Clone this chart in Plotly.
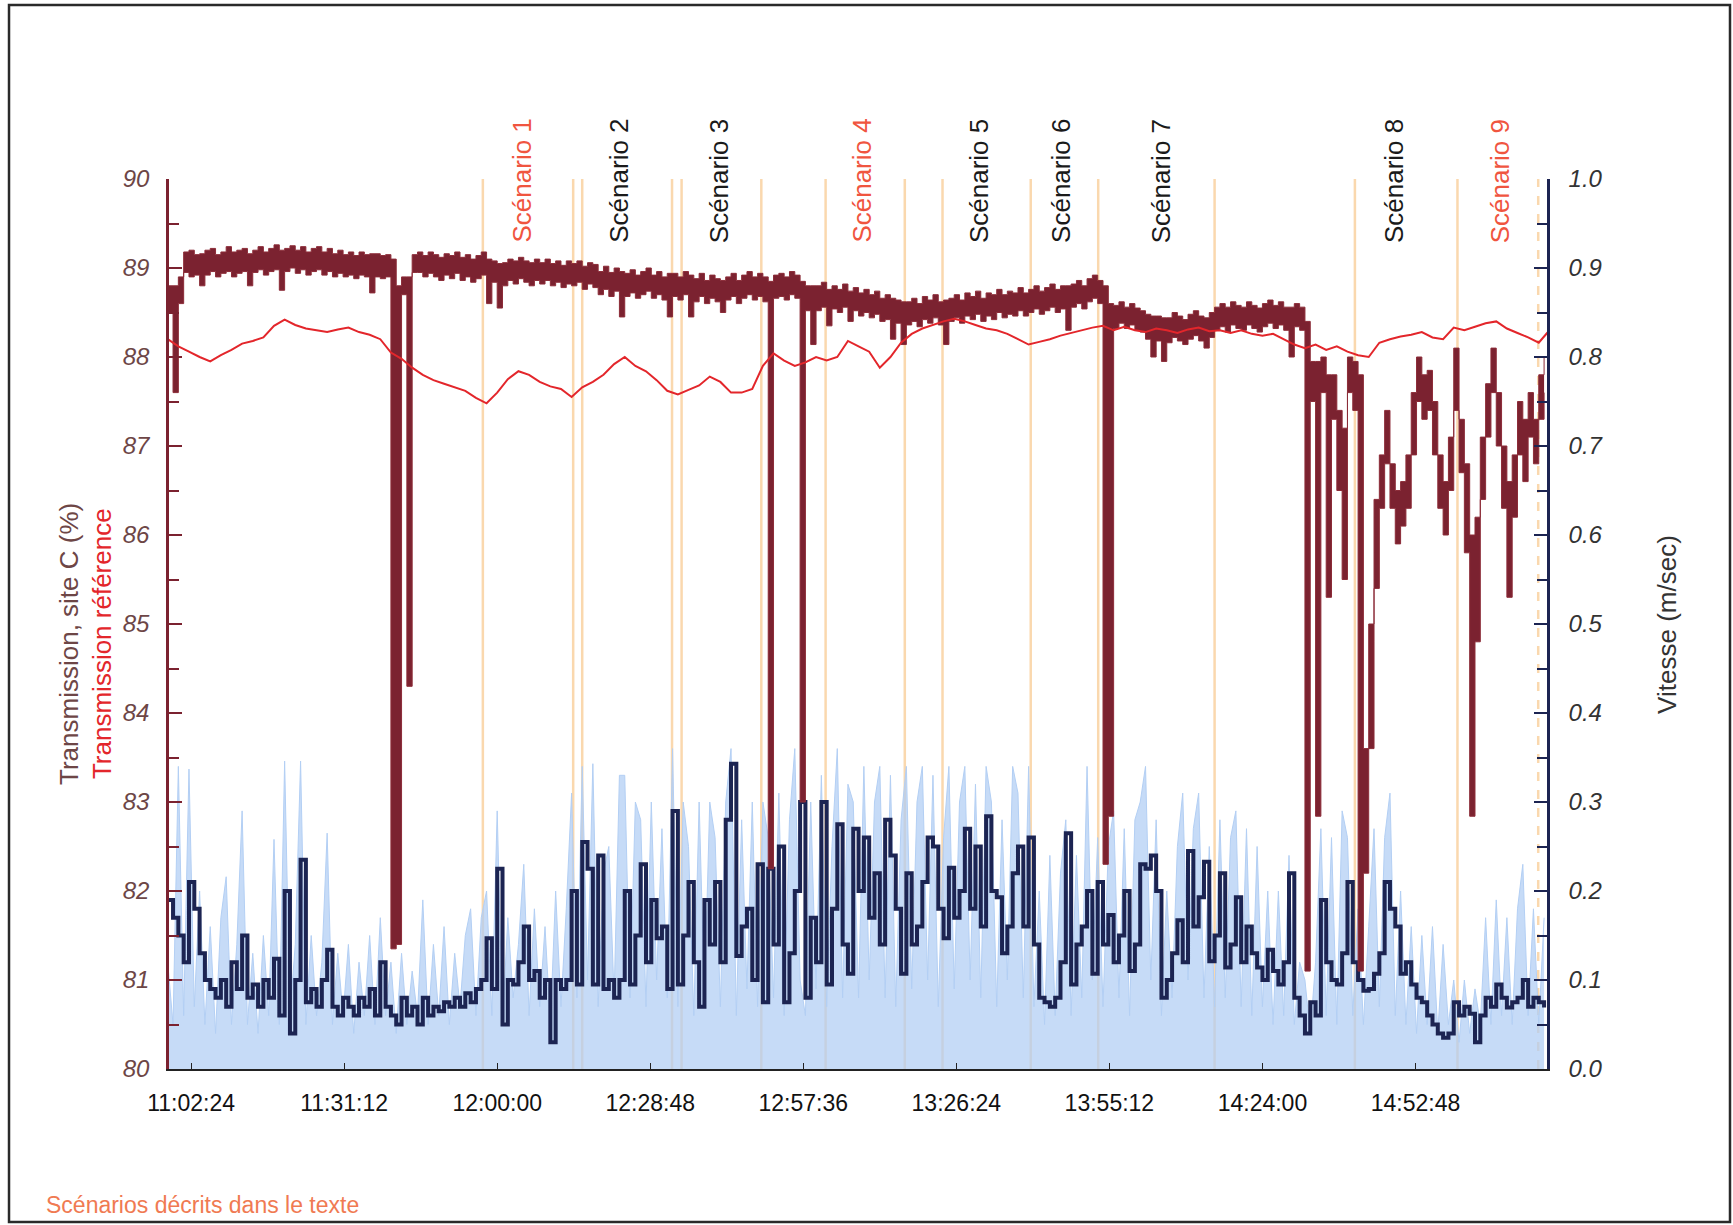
import numpy as np
import plotly.graph_objects as go

FONT = "Liberation Sans, Arial, sans-serif"

# ---------------- data (time = minutes after 11:00) ----------------
tick_minutes = [2.4, 31.2, 60.0, 88.8, 117.6, 146.4, 175.2, 204.0, 232.8]
tick_labels = ["11:02:24", "11:31:12", "12:00:00", "12:28:48", "12:57:36",
               "13:26:24", "13:55:12", "14:24:00", "14:52:48"]

minutes = np.arange(-2, 258)          # one sample per minute
ref_minutes = np.arange(-2, 260, 2)   # one sample every two minutes

# Transmission, site C (%) : upper / lower envelope of the noisy trace
site_c_max = [
    88.8, 88.8, 88.9, 89.18, 89.20, 89.15, 89.16, 89.20, 89.22, 89.15,
    89.18, 89.24, 89.18, 89.20, 89.22, 89.16, 89.20, 89.24, 89.18, 89.22,
    89.26, 89.20, 89.22, 89.25, 89.20, 89.24, 89.18, 89.22, 89.24, 89.18,
    89.22, 89.16, 89.20, 89.15, 89.18, 89.14, 89.18, 89.15, 89.16, 89.16,
    89.14, 89.15, 89.10, 88.80, 88.90, 88.90, 89.15, 89.18, 89.14, 89.18,
    89.15, 89.12, 89.16, 89.14, 89.18, 89.12, 89.15, 89.10, 89.14, 89.18,
    89.10, 89.08, 89.05, 89.06, 89.10, 89.08, 89.12, 89.08, 89.06, 89.10,
    89.06, 89.10, 89.05, 89.08, 89.03, 89.08, 89.05, 89.08, 89.02, 89.06,
    89.04, 88.96, 89.02, 88.95, 89.00, 88.96, 88.94, 88.98, 88.92, 88.96,
    89.00, 88.92, 88.96, 88.90, 88.94, 88.94, 88.90, 88.96, 88.92, 88.88,
    88.94, 88.86, 88.92, 88.88, 88.86, 88.90, 88.94, 88.86, 88.92, 88.96,
    88.90, 88.94, 88.90, 88.85, 88.92, 88.94, 88.90, 88.96, 88.92, 88.85,
    88.80, 88.80, 88.80, 88.84, 88.76, 88.80, 88.76, 88.82, 88.74, 88.78,
    88.72, 88.76, 88.70, 88.74, 88.66, 88.70, 88.66, 88.64, 88.62, 88.62,
    88.66, 88.60, 88.68, 88.64, 88.70, 88.62, 88.64, 88.66, 88.70, 88.64,
    88.72, 88.68, 88.74, 88.66, 88.72, 88.70, 88.76, 88.70, 88.74, 88.72,
    88.78, 88.72, 88.76, 88.80, 88.74, 88.78, 88.82, 88.76, 88.80, 88.80,
    88.82, 88.86, 88.80, 88.88, 88.92, 88.86, 88.80, 88.60, 88.58, 88.62,
    88.56, 88.60, 88.55, 88.52, 88.48, 88.46, 88.46, 88.44, 88.44, 88.50,
    88.46, 88.42, 88.48, 88.52, 88.46, 88.44, 88.50, 88.56, 88.60, 88.56,
    88.62, 88.58, 88.56, 88.62, 88.58, 88.55, 88.60, 88.64, 88.58, 88.62,
    88.56, 88.56, 88.60, 88.56, 88.40, 87.95, 87.95, 88.00, 87.80, 87.80,
    87.40, 87.20, 88.00, 87.95, 87.80, 83.60, 85.00, 86.40, 86.90, 87.40,
    86.80, 86.50, 86.60, 86.90, 87.60, 88.00, 87.80, 87.85, 87.50, 86.90,
    86.60, 87.10, 88.10, 87.30, 86.80, 86.00, 86.20, 87.10, 87.70, 88.10,
    87.60, 87.00, 86.60, 86.90, 87.50, 87.30, 87.60, 87.30, 87.80, 88.00,
]
site_c_min = [
    88.5, 87.6, 88.6, 88.95, 88.90, 88.92, 88.80, 88.92, 88.96, 88.90,
    88.94, 88.96, 88.90, 88.94, 88.96, 88.80, 88.95, 88.98, 88.92, 88.96,
    88.98, 88.75, 88.96, 89.00, 88.94, 88.98, 88.92, 88.96, 88.98, 88.92,
    88.96, 88.90, 88.94, 88.90, 88.92, 88.88, 88.92, 88.90, 88.72, 88.90,
    88.88, 88.90, 81.35, 81.40, 88.70, 84.30, 88.95, 88.95, 88.90, 88.94,
    88.90, 88.86, 88.92, 88.88, 88.94, 88.86, 88.90, 88.84, 88.88, 88.92,
    88.60, 88.84, 88.55, 88.80, 88.86, 88.82, 88.88, 88.84, 88.80, 88.86,
    88.82, 88.86, 88.80, 88.84, 88.78, 88.82, 88.80, 88.84, 88.76, 88.82,
    88.78, 88.70, 88.76, 88.68, 88.74, 88.45, 88.68, 88.72, 88.66, 88.70,
    88.74, 88.66, 88.70, 88.64, 88.45, 88.68, 88.64, 88.70, 88.45, 88.62,
    88.68, 88.60, 88.66, 88.62, 88.50, 88.64, 88.68, 88.60, 88.66, 88.70,
    88.64, 88.68, 88.62, 82.25, 88.66, 88.68, 88.64, 88.70, 88.66, 83.00,
    88.52, 88.14, 88.52, 88.56, 88.35, 88.54, 88.50, 88.56, 88.40, 88.52,
    88.46, 88.50, 88.44, 88.48, 88.40, 88.42, 88.20, 88.38, 88.14, 88.36,
    88.40, 88.34, 88.42, 88.38, 88.44, 88.36, 88.14, 88.40, 88.44, 88.38,
    88.46, 88.42, 88.48, 88.40, 88.46, 88.42, 88.50, 88.44, 88.48, 88.46,
    88.52, 88.46, 88.50, 88.54, 88.48, 88.52, 88.56, 88.50, 88.54, 88.30,
    88.56, 88.60, 88.54, 88.62, 88.66, 88.60, 82.30, 82.84, 88.32, 88.38,
    88.32, 88.36, 88.30, 88.28, 88.20, 88.00, 88.18, 87.95, 88.16, 88.22,
    88.18, 88.14, 88.20, 88.24, 88.18, 88.10, 88.22, 88.30, 88.34, 88.28,
    88.36, 88.32, 88.30, 88.36, 88.32, 88.28, 88.34, 88.38, 88.32, 88.36,
    88.30, 88.00, 88.34, 88.30, 81.10, 87.50, 82.84, 87.60, 85.30, 87.30,
    86.50, 85.50, 87.60, 87.40, 81.10, 82.20, 83.60, 85.40, 86.30, 86.80,
    86.30, 85.90, 86.10, 86.30, 86.90, 87.50, 87.30, 87.40, 86.90, 86.30,
    86.00, 86.50, 87.40, 86.70, 85.80, 82.84, 84.80, 86.40, 87.10, 87.60,
    87.00, 86.30, 85.30, 86.20, 86.90, 86.60, 87.10, 86.80, 87.30, 87.60,
]

# Transmission référence (%)
ref_trans = [
    88.20, 88.12, 88.06, 88.00, 87.95, 88.02, 88.08, 88.15, 88.18, 88.22,
    88.35, 88.42, 88.36, 88.32, 88.30, 88.28, 88.31, 88.33, 88.28, 88.25,
    88.20, 88.05, 87.98, 87.88, 87.80, 87.74, 87.70, 87.66, 87.62, 87.54,
    87.48, 87.60, 87.75, 87.84, 87.80, 87.72, 87.67, 87.64, 87.55, 87.66,
    87.72, 87.80, 87.92, 88.00, 87.90, 87.84, 87.74, 87.62, 87.58, 87.63,
    87.68, 87.78, 87.72, 87.60, 87.60, 87.64, 87.90, 88.04, 87.96, 87.90,
    87.94, 88.00, 87.96, 88.00, 88.18, 88.12, 88.06, 87.88, 88.00, 88.16,
    88.26, 88.32, 88.36, 88.40, 88.43, 88.40, 88.36, 88.32, 88.30, 88.26,
    88.20, 88.14, 88.17, 88.20, 88.24, 88.27, 88.30, 88.33, 88.35, 88.30,
    88.34, 88.30, 88.28, 88.32, 88.30, 88.27, 88.31, 88.33, 88.29, 88.30,
    88.27, 88.30, 88.26, 88.24, 88.26, 88.20, 88.14, 88.10, 88.14, 88.08,
    88.12, 88.06, 88.02, 88.00, 88.16, 88.20, 88.23, 88.25, 88.28, 88.22,
    88.20, 88.33, 88.30, 88.34, 88.38, 88.40, 88.32, 88.27, 88.22, 88.16,
    88.30,
]

# Vitesse (m/sec) : smoothed (dark) and raw (light) signals
speed_mean = [
    0.19, 0.17, 0.15, 0.12, 0.21, 0.18, 0.13, 0.10, 0.09, 0.08,
    0.10, 0.07, 0.12, 0.09, 0.15, 0.08, 0.095, 0.07, 0.10, 0.08,
    0.124, 0.06, 0.20, 0.04, 0.10, 0.235, 0.075, 0.09, 0.07, 0.10,
    0.134, 0.07, 0.06, 0.08, 0.07, 0.06, 0.08, 0.07, 0.09, 0.06,
    0.12, 0.07, 0.06, 0.05, 0.08, 0.06, 0.07, 0.05, 0.08, 0.06,
    0.07, 0.065, 0.075, 0.07, 0.08, 0.07, 0.085, 0.075, 0.09, 0.10,
    0.147, 0.09, 0.225, 0.05, 0.10, 0.095, 0.12, 0.16, 0.10, 0.11,
    0.08, 0.10, 0.03, 0.10, 0.09, 0.10, 0.20, 0.095, 0.255, 0.225,
    0.095, 0.24, 0.09, 0.10, 0.08, 0.10, 0.20, 0.095, 0.15, 0.23,
    0.12, 0.19, 0.147, 0.16, 0.09, 0.29, 0.095, 0.15, 0.21, 0.12,
    0.07, 0.19, 0.14, 0.21, 0.12, 0.28, 0.343, 0.127, 0.16, 0.18,
    0.10, 0.23, 0.075, 0.225, 0.14, 0.25, 0.075, 0.13, 0.20, 0.30,
    0.08, 0.17, 0.12, 0.30, 0.095, 0.18, 0.275, 0.14, 0.107, 0.27,
    0.20, 0.26, 0.17, 0.22, 0.14, 0.28, 0.24, 0.18, 0.107, 0.22,
    0.14, 0.16, 0.21, 0.26, 0.25, 0.18, 0.147, 0.226, 0.17, 0.20,
    0.27, 0.18, 0.25, 0.16, 0.284, 0.20, 0.193, 0.13, 0.16, 0.22,
    0.25, 0.16, 0.26, 0.14, 0.08, 0.075, 0.07, 0.08, 0.12, 0.265,
    0.095, 0.14, 0.16, 0.20, 0.107, 0.21, 0.14, 0.173, 0.12, 0.15,
    0.20, 0.11, 0.14, 0.23, 0.225, 0.24, 0.20, 0.08, 0.10, 0.13,
    0.167, 0.12, 0.245, 0.16, 0.193, 0.233, 0.121, 0.15, 0.22, 0.114,
    0.14, 0.193, 0.12, 0.16, 0.13, 0.114, 0.10, 0.134, 0.11, 0.095,
    0.12, 0.22, 0.08, 0.06, 0.04, 0.075, 0.06, 0.19, 0.12, 0.10,
    0.095, 0.13, 0.21, 0.12, 0.10, 0.088, 0.09, 0.107, 0.13, 0.21,
    0.18, 0.16, 0.107, 0.12, 0.095, 0.08, 0.075, 0.06, 0.05, 0.04,
    0.035, 0.04, 0.075, 0.06, 0.07, 0.062, 0.03, 0.06, 0.08, 0.07,
    0.095, 0.08, 0.069, 0.075, 0.08, 0.10, 0.07, 0.08, 0.075, 0.069,
]
speed_raw = [
    0.12, 0.05, 0.34, 0.06, 0.337, 0.07, 0.20, 0.05, 0.16, 0.04,
    0.17, 0.216, 0.05, 0.14, 0.29, 0.05, 0.13, 0.04, 0.15, 0.06,
    0.258, 0.05, 0.346, 0.06, 0.14, 0.346, 0.05, 0.15, 0.06, 0.12,
    0.265, 0.05, 0.13, 0.06, 0.14, 0.04, 0.12, 0.06, 0.15, 0.05,
    0.17, 0.06, 0.12, 0.04, 0.13, 0.05, 0.11, 0.06, 0.19, 0.05,
    0.14, 0.06, 0.16, 0.05, 0.13, 0.07, 0.15, 0.18, 0.06, 0.17,
    0.20, 0.06, 0.29, 0.05, 0.17, 0.08, 0.14, 0.23, 0.06, 0.18,
    0.07, 0.16, 0.05, 0.20, 0.07, 0.18, 0.31, 0.08, 0.34, 0.10,
    0.343, 0.07, 0.22, 0.25, 0.08, 0.33, 0.33, 0.08, 0.30, 0.28,
    0.07, 0.30, 0.10, 0.27, 0.08, 0.36, 0.07, 0.30, 0.25, 0.06,
    0.30, 0.08, 0.30, 0.26, 0.07, 0.30, 0.36, 0.06, 0.28, 0.09,
    0.30, 0.07, 0.30, 0.26, 0.08, 0.31, 0.06, 0.28, 0.36, 0.10,
    0.06, 0.30, 0.09, 0.33, 0.07, 0.25, 0.36, 0.08, 0.32, 0.30,
    0.08, 0.34, 0.10, 0.30, 0.34, 0.08, 0.33, 0.07, 0.28, 0.34,
    0.09, 0.30, 0.34, 0.10, 0.33, 0.07, 0.26, 0.34, 0.09, 0.30,
    0.34, 0.10, 0.32, 0.08, 0.34, 0.30, 0.07, 0.28, 0.10, 0.34,
    0.31, 0.08, 0.34, 0.07, 0.20, 0.05, 0.24, 0.06, 0.22, 0.28,
    0.06, 0.24, 0.08, 0.34, 0.10, 0.26, 0.07, 0.25, 0.29, 0.08,
    0.27, 0.06, 0.28, 0.30, 0.34, 0.10, 0.28, 0.06, 0.20, 0.08,
    0.25, 0.31, 0.10, 0.27, 0.31, 0.08, 0.25, 0.07, 0.28, 0.08,
    0.26, 0.29, 0.07, 0.27, 0.06, 0.25, 0.07, 0.20, 0.05, 0.20,
    0.06, 0.24, 0.05, 0.12, 0.10, 0.04, 0.12, 0.27, 0.06, 0.26,
    0.05, 0.29, 0.26, 0.06, 0.18, 0.05, 0.16, 0.27, 0.07, 0.26,
    0.31, 0.06, 0.20, 0.05, 0.16, 0.04, 0.15, 0.05, 0.16, 0.04,
    0.14, 0.05, 0.10, 0.03, 0.10, 0.04, 0.09, 0.05, 0.17, 0.05,
    0.19, 0.06, 0.17, 0.05, 0.18, 0.23, 0.06, 0.18, 0.05, 0.17,
]

scenario_names = ["Scénario 1", "Scénario 2", "Scénario 3", "Scénario 4", "Scénario 5",
                  "Scénario 6", "Scénario 7", "Scénario 8", "Scénario 9"]
scenario_minutes = [64.6, 82.9, 101.8, 128.6, 150.7, 166.1, 184.8, 228.8, 248.6]
highlighted = {"Scénario 1", "Scénario 4", "Scénario 9"}

boundary_minutes = [57.3, 74.3, 76.0, 92.9, 94.7, 109.7, 121.8, 136.7, 143.8,
                    160.4, 173.1, 195.0, 221.4, 240.7]
boundary_dashed_minutes = [255.9]

for name, arr in [("site_c_max", site_c_max), ("site_c_min", site_c_min),
                  ("speed_mean", speed_mean), ("speed_raw", speed_raw)]:
    assert len(arr) == len(minutes), (name, len(arr))
assert len(ref_trans) == len(ref_minutes), len(ref_trans)

# ---------------- colours ----------------
MAROON = "#7b2230"
MAROON_EDGE = "#8c2c38"
RED = "#e3262b"
NAVY = "#1c2452"
LIGHTBLUE = "#b3cff4"
ORANGE = "rgba(248,195,130,0.65)"
CORAL = "#f0553f"

fig = go.Figure()
fig.add_trace(go.Scatter(x=minutes, y=speed_raw, mode="lines", name="Vitesse (brute)",
                         line=dict(color=LIGHTBLUE, width=1),
                         fill="tozeroy", fillcolor="rgba(176,205,244,0.72)",
                         yaxis="y", hoverinfo="skip"))
fig.add_trace(go.Scatter(x=minutes, y=speed_mean, mode="lines", name="Vitesse",
                         line=dict(color=NAVY, width=4, shape="hv"), yaxis="y"))
fig.add_trace(go.Scatter(x=minutes, y=site_c_min, mode="lines", name="site C min",
                         line=dict(color=MAROON_EDGE, width=1, shape="hv"), yaxis="y2"))
fig.add_trace(go.Scatter(x=minutes, y=site_c_max, mode="lines", name="Transmission, site C",
                         line=dict(color=MAROON_EDGE, width=1, shape="hv"),
                         fill="tonexty", fillcolor=MAROON, yaxis="y2"))
fig.add_trace(go.Scatter(x=ref_minutes, y=ref_trans, mode="lines", name="Transmission référence",
                         line=dict(color=RED, width=2), yaxis="y2"))

shapes = []
for b in boundary_minutes:
    shapes.append(dict(type="line", xref="x", yref="paper", x0=b, x1=b, y0=0, y1=1,
                       line=dict(color=ORANGE, width=2.5), layer="below"))
for b in boundary_dashed_minutes:
    shapes.append(dict(type="line", xref="x", yref="paper", x0=b, x1=b, y0=0, y1=1,
                       line=dict(color=ORANGE, width=2.5, dash="dash"), layer="below"))
# outer frame of the figure
shapes.append(dict(type="rect", xref="paper", yref="paper", x0=-0.1161, x1=1.1328,
                   y0=-0.1719, y1=1.1955, line=dict(color="#2a2a2a", width=2.5),
                   fillcolor="rgba(0,0,0,0)", layer="above"))

annotations = []
for name, m in zip(scenario_names, scenario_minutes):
    annotations.append(dict(text=name, x=m, xref="x", y=0.926, yref="paper",
                            xanchor="center", yanchor="bottom", textangle=-90,
                            showarrow=False,
                            font=dict(family=FONT, size=26,
                                      color=CORAL if name in highlighted else "#1a1a1a")))
annotations += [
    dict(text="Transmission, site C (%)", x=-0.0726, y=0.4775, xref="paper", yref="paper",
         textangle=-90, showarrow=False, xanchor="center", yanchor="middle",
         font=dict(family=FONT, size=26, color="#6d4646")),
    dict(text="Transmission référence", x=-0.0486, y=0.4775, xref="paper", yref="paper",
         textangle=-90, showarrow=False, xanchor="center", yanchor="middle",
         font=dict(family=FONT, size=26, color=RED)),
    dict(text="Vitesse (m/sec)", x=1.087, y=0.5, xref="paper", yref="paper",
         textangle=-90, showarrow=False, xanchor="center", yanchor="middle",
         font=dict(family=FONT, size=26, color="#333333")),
    dict(text="Scénarios décrits dans le texte", x=-0.0907, y=-0.1528,
         xref="paper", yref="paper", showarrow=False, xanchor="left", yanchor="middle",
         font=dict(family=FONT, size=23, color="#f07a52")),
]

fig.update_layout(
    width=1733, height=1225, autosize=False,
    margin=dict(l=169, r=186, t=179, b=156),
    paper_bgcolor="white", plot_bgcolor="white", showlegend=False,
    shapes=shapes, annotations=annotations,
    xaxis=dict(range=[-1.76, 257.55], tickvals=tick_minutes, ticktext=tick_labels,
               showgrid=False, zeroline=False, showline=True, linecolor="#222222",
               linewidth=2, ticks="inside", ticklen=6, tickcolor="#222222",
               ticklabelstandoff=12,
               tickfont=dict(family=FONT, size=23, color="#111111")),
    yaxis=dict(range=[0, 1], dtick=0.1, tickformat=".1f", side="right",
               showgrid=False, zeroline=False, showline=True, linecolor=NAVY,
               linewidth=2.5, ticks="inside", ticklen=13, tickcolor=NAVY, tickwidth=1.5,
               minor=dict(dtick=0.05, ticks="inside", ticklen=10, tickcolor=NAVY),
               ticklabelstandoff=14,
               tickfont=dict(family=FONT, size=24, color="#333333", style="italic")),
    yaxis2=dict(range=[80, 90], dtick=1, side="left", overlaying="y", anchor="x",
                showgrid=False, zeroline=False, showline=True, linecolor=MAROON,
                linewidth=2.5, ticks="inside", ticklen=13, tickcolor=MAROON, tickwidth=1.5,
                minor=dict(dtick=0.5, ticks="inside", ticklen=10, tickcolor=MAROON),
                ticklabelstandoff=12,
                tickfont=dict(family=FONT, size=24, color="#6d4646", style="italic")),
)

fig.write_html("out.html")
